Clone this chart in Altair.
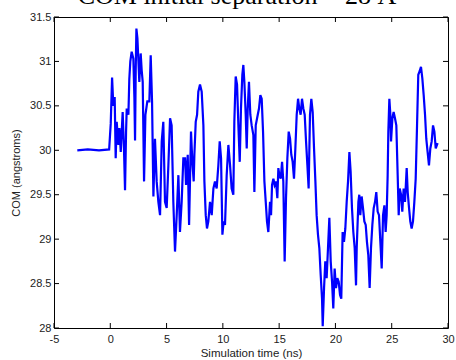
import altair as alt
import pandas as pd

# ---- data ----
time_ns = [
    -2.93, -2.0, -1.0, -0.1,
    0.04, 0.16, 0.27, 0.39, 0.48, 0.57, 0.72, 0.81, 0.93, 1.01, 1.10, 1.22, 1.31, 1.40, 1.46,
    1.61, 1.69, 1.78, 1.90, 2.05, 2.14, 2.20, 2.26, 2.32, 2.41, 2.49, 2.58, 2.70, 2.79, 2.88,
    3.00, 3.12, 3.29, 3.47, 3.59, 3.71, 3.83, 3.97, 4.12, 4.27, 4.42, 4.57, 4.71, 4.86, 5.01,
    5.16, 5.31, 5.45, 5.60, 5.75, 5.90, 6.05, 6.19, 6.34, 6.49,
    6.64, 6.73, 6.88, 7.00, 7.08, 7.17, 7.29, 7.41, 7.47, 7.59, 7.71, 7.82, 7.97, 8.12, 8.27,
    8.36, 8.48, 8.59, 8.71, 8.86, 9.01, 9.16, 9.30, 9.45, 9.60, 9.72, 9.84, 9.96, 10.07, 10.19,
    10.34, 10.49, 10.64, 10.78, 10.93, 11.02, 11.14, 11.26, 11.38, 11.50, 11.61, 11.73, 11.82,
    11.91, 12.03, 12.12, 12.21, 12.32, 12.44, 12.56, 12.71, 12.80, 12.92, 13.10, 13.21, 13.33,
    13.45, 13.57, 13.69, 13.81, 13.92, 14.04, 14.19,
    14.28, 14.37, 14.49, 14.60, 14.72, 14.84, 14.93, 15.02, 15.14, 15.26, 15.37, 15.49, 15.61,
    15.73, 15.85, 15.97, 16.08, 16.20, 16.32, 16.44, 16.56, 16.68, 16.79, 16.91, 17.03, 17.15,
    17.27, 17.39, 17.51, 17.62, 17.74, 17.86, 17.98, 18.10, 18.22, 18.33, 18.45, 18.57, 18.69,
    18.81, 18.87, 18.99, 19.10, 19.22, 19.34, 19.46, 19.58, 19.70, 19.81, 19.93, 20.05, 20.17,
    20.29, 20.41, 20.52, 20.64, 20.76, 20.88, 21.00, 21.12, 21.24, 21.35, 21.47, 21.59, 21.71,
    21.83, 21.89, 22.04, 22.12, 22.21, 22.33, 22.45, 22.57, 22.69, 22.80, 22.92, 23.04, 23.16,
    23.28, 23.40, 23.52, 23.63, 23.75, 23.87, 23.99, 24.11, 24.23, 24.35, 24.46, 24.55, 24.64,
    24.70, 24.79, 24.88, 24.94, 25.06, 25.17, 25.29, 25.41, 25.53, 25.62, 25.71, 25.83, 25.94,
    26.06, 26.18, 26.33, 26.42, 26.54, 26.65, 26.77, 26.89, 27.01, 27.13, 27.25, 27.36, 27.48,
    27.60, 27.72, 27.84, 27.96, 28.07, 28.19, 28.31, 28.43, 28.55, 28.67, 28.79, 28.91, 29.02,
    29.08,
]
com_A = [
    30.0, 30.01, 30.0, 30.01,
    30.3, 30.82, 30.5, 30.6, 29.91, 30.32, 30.06, 30.25, 29.98, 30.2, 30.43, 30.0, 29.55, 30.2, 30.47,
    30.40, 30.8, 31.0, 31.11, 31.03, 30.6, 30.11, 30.9, 31.37, 31.26, 31.03, 30.77, 31.09, 30.9, 30.77,
    29.65, 30.40, 30.55, 30.55, 31.07, 30.55, 29.48, 30.13, 29.65, 29.42, 29.27, 30.1, 30.32, 29.42, 29.35,
    29.83, 30.36, 30.28, 29.42, 28.86, 29.27, 29.72, 29.08, 29.42, 29.91,
    29.91, 29.61, 29.95, 29.16, 29.65, 30.21, 29.87, 29.65, 29.95, 30.32, 30.4, 30.66, 30.74, 30.66, 30.28,
    29.65, 29.27, 29.12, 29.2, 29.42, 29.27, 29.57, 29.65, 29.57, 29.83, 30.1, 29.91, 29.05, 29.2, 29.16,
    29.72, 30.06, 29.83, 29.57, 29.5, 30.32, 30.83, 30.74, 30.28, 29.87, 30.47, 30.85, 30.96,
    30.77, 30.4, 30.02, 30.47, 30.77, 30.4, 30.28, 30.17, 29.53, 30.28, 30.4, 30.47, 30.62,
    30.58, 30.21, 29.65, 29.42, 29.2, 29.08, 29.42,
    29.27, 29.61, 29.68, 29.61, 29.65, 29.46, 29.8, 29.72, 29.68, 29.87, 29.65, 28.75, 29.46,
    29.91, 30.21, 30.13, 29.95, 29.87, 29.68, 30.02, 30.4, 30.58, 30.47, 30.4, 30.58, 30.47,
    30.4, 30.1, 29.83, 29.57, 30.4, 30.58, 30.43, 30.02, 29.65, 29.27, 29.05, 28.9, 28.6,
    28.33, 28.02, 28.45, 28.75, 28.56, 28.9, 29.24, 28.75, 28.52, 28.22, 28.67, 28.45, 28.56,
    28.52, 28.37, 28.33, 29.08, 28.97, 29.12, 29.42, 29.65, 29.98, 29.76, 29.35, 29.08, 28.9,
    28.48, 28.9, 29.42, 29.5, 29.27, 29.48, 29.35, 29.2, 29.16, 28.97, 28.82, 28.45, 28.9,
    29.16, 29.35, 29.42, 29.53, 29.31, 29.27, 28.97, 28.67, 29.27, 29.38, 29.08, 29.27, 29.72,
    30.21, 30.58, 30.4, 30.1, 30.36, 30.43, 30.36, 30.28, 29.72, 29.27, 29.57, 29.5, 29.31,
    29.57, 29.42, 29.8, 29.53, 29.35, 29.2, 29.12, 29.2, 29.42, 29.68, 30.28, 30.85, 30.89,
    30.94, 30.81, 30.62, 30.4, 30.13, 29.98, 29.83, 30.02, 30.1, 30.28, 30.21, 30.02, 30.06,
    30.08,
]
x_ticks = [-5, 0, 5, 10, 15, 20, 25, 30]
y_ticks = [28, 28.5, 29, 29.5, 30, 30.5, 31, 31.5]
title_text = "COM initial separation = 28 Å"
x_title = "Simulation time (ns)"
y_title = "COM (angstroms)"

W, H = 394, 311
TL = 5  # inward tick length
SANS = "Liberation Sans"

df = pd.DataFrame({"t": time_ns, "com": com_A})
xt = pd.DataFrame({"t": x_ticks})
yt = pd.DataFrame({"com": y_ticks})

xs = alt.Scale(domain=[-5, 30], nice=False, zero=False)
ys = alt.Scale(domain=[28, 31.5], nice=False, zero=False)

x_axis = alt.Axis(
    values=x_ticks, labelExpr="datum.value", title=x_title, ticks=False, domain=False,
    grid=False, labelFlush=False, labelPadding=5, labelFontSize=11, titleFontSize=11.5,
    titlePadding=3, labelFont=SANS, titleFont=SANS, labelColor="#222222",
    titleColor="#222222", titleFontWeight="normal")
y_axis = alt.Axis(
    values=y_ticks, labelExpr="datum.value", title=y_title, ticks=False, domain=False,
    grid=False, labelFlush=False, labelPadding=3, labelFontSize=11, titleFontSize=11,
    titlePadding=8, labelFont=SANS, titleFont=SANS, labelColor="#222222",
    titleColor="#222222", titleFontWeight="normal")

line = alt.Chart(df).mark_line(color="#0000ff", strokeWidth=2.2, clip=True).encode(
    x=alt.X("t:Q", scale=xs, axis=x_axis),
    y=alt.Y("com:Q", scale=ys, axis=y_axis),
)

tick_bottom = alt.Chart(xt).mark_rule(color="black", strokeWidth=1).encode(
    x=alt.X("t:Q", scale=xs, axis=x_axis), y=alt.value(H), y2=alt.value(H - TL))
tick_top = alt.Chart(xt).mark_rule(color="black", strokeWidth=1).encode(
    x=alt.X("t:Q", scale=xs, axis=x_axis), y=alt.value(0), y2=alt.value(TL))
tick_left = alt.Chart(yt).mark_rule(color="black", strokeWidth=1).encode(
    y=alt.Y("com:Q", scale=ys, axis=y_axis), x=alt.value(0), x2=alt.value(TL))
tick_right = alt.Chart(yt).mark_rule(color="black", strokeWidth=1).encode(
    y=alt.Y("com:Q", scale=ys, axis=y_axis), x=alt.value(W), x2=alt.value(W - TL))

title = alt.Chart(pd.DataFrame({"label": [title_text]})).mark_text(
    font="Liberation Serif", fontSize=26, baseline="alphabetic", align="center", color="black"
).encode(text="label:N", x=alt.value(183), y=alt.value(-13))

chart = alt.layer(line, tick_bottom, tick_top, tick_left, tick_right, title).properties(
    width=W, height=H,
    autosize=alt.AutoSizeParams(type="none"),
    padding={"left": 54, "top": 17, "right": 8, "bottom": 32},
    background="white",
).configure_view(stroke="black", strokeWidth=1)

chart.save("out.html", embed_options={"renderer": "svg", "actions": False})
